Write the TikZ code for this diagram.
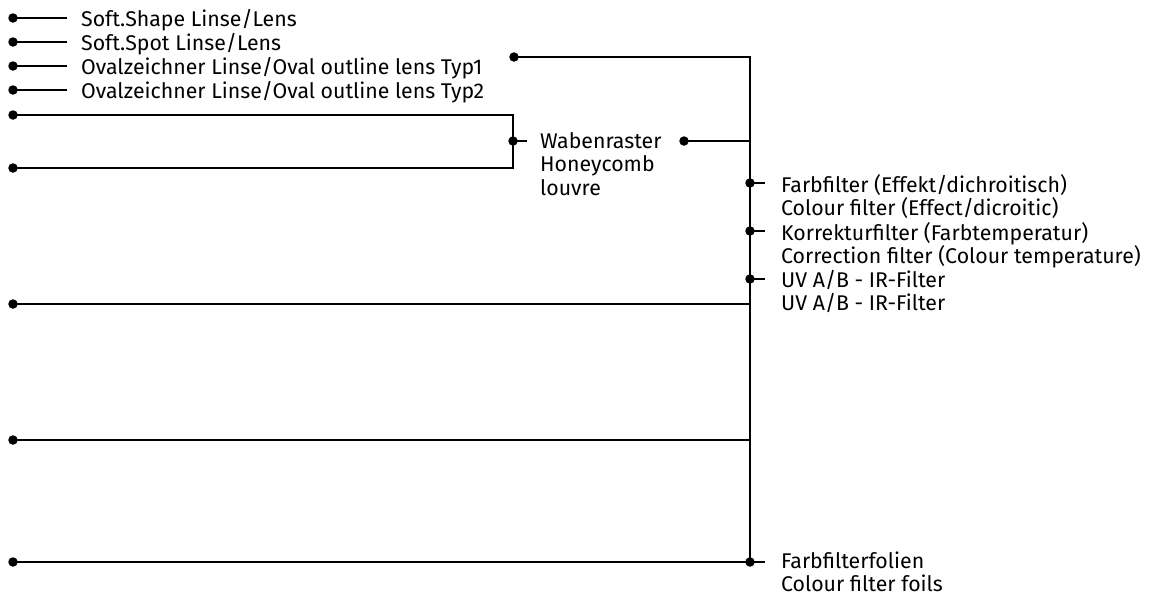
\documentclass[tikz,border=0pt]{standalone}
\usepackage{fontspec}
\setmainfont{Fira Sans}
\begin{document}
\begin{tikzpicture}[x=1pt,y=-1pt]
\tikzset{
 ln/.style={line width=2.4pt},
 dot/.style={circle,fill=black,inner sep=0pt,minimum size=9.5pt},
 lbl/.style={anchor=north west,inner sep=0pt,align=left,font=\fontsize{21.3}{23.6}\selectfont}
}
\useasboundingbox (0,0) rectangle (1158,595);
% left dots
\foreach \n/\y in {1/18,2/42,3/66,4/90,5/115,6/168,7/304,8/440,9/562}{
  \coordinate (p\n) at (13,\y);
}
\coordinate (e1) at (67,18);
\coordinate (e2) at (67,42);
\coordinate (e3) at (67,66);
\coordinate (e4) at (67,90);
\coordinate (c5) at (513,115);
\coordinate (c6) at (513,168);
\coordinate (ew) at (527,141);
\coordinate (btop) at (750,57);
\coordinate (bw) at (750,141);
\coordinate (b7) at (750,304);
\coordinate (b8) at (750,440);
\coordinate (g1) at (765,183);
\coordinate (g2) at (765,231);
\coordinate (g3) at (765,279);
\coordinate (g4) at (765,562);
% lines
\draw[ln] (p1) -- (e1);
\draw[ln] (p2) -- (e2);
\draw[ln] (p3) -- (e3);
\draw[ln] (p4) -- (e4);
\draw[ln] (p5) -- (c5) -- (c6) -- (p6);
\draw[ln] (513,141) -- (ew);
\draw[ln] (514,57) -- (btop) -- (750,562);
\draw[ln] (684,141) -- (bw);
\draw[ln] (p7) -- (b7);
\draw[ln] (p8) -- (b8);
\draw[ln] (p9) -- (750,562);
\draw[ln] (750,183) -- (g1);
\draw[ln] (750,231) -- (g2);
\draw[ln] (750,279) -- (g3);
\draw[ln] (750,562) -- (g4);
% dots
\foreach \n in {1,...,9}{ \node[dot] (d\n) at (p\n) {}; }
\node[dot] (jw) at (513,141) {};
\node[dot] (wd) at (684,141) {};
\node[dot] (td) at (514,57) {};
\node[dot] (f1) at (750,183) {};
\node[dot] (f2) at (750,231) {};
\node[dot] (f3) at (750,279) {};
\node[dot] (f4) at (750,562) {};
% labels
\node[lbl] (t1) at (81,9) {Soft.Shape Linse/Lens};
\node[lbl] (t2) at (81,33) {Soft.Spot Linse/Lens};
\node[lbl] (t3) at (81,57) {Ovalzeichner Linse/Oval outline lens Typ1};
\node[lbl] (t4) at (81,81) {Ovalzeichner Linse/Oval outline lens Typ2};
\node[lbl] (tw) at (540,132) {Wabenraster\\Honeycomb\\louvre};
\node[lbl] (tf1) at (781,174) {Farbfilter (Effekt/dichroitisch)\\Colour filter (Effect/dicroitic)};
\node[lbl] (tf2) at (781,222) {Korrekturfilter (Farbtemperatur)\\Correction filter (Colour temperature)};
\node[lbl] (tf3) at (781,270) {UV A/B - IR-Filter\\UV A/B - IR-Filter};
\node[lbl,font=\fontsize{21.3}{22.6}\selectfont] (tf4) at (781,552) {Farbfilterfolien\\Colour filter foils};
\end{tikzpicture}
\end{document}
